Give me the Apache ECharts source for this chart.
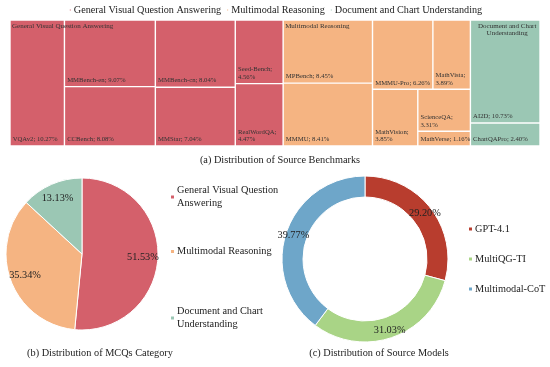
<!DOCTYPE html>
<html><head><meta charset="utf-8">
<script src="https://cdn.jsdelivr.net/npm/echarts@6/dist/echarts.min.js"></script>
<style>html,body{margin:0;padding:0;background:#fff}#c{width:550px;height:367px}</style>
</head><body><div id="c"></div>
<script>
// ---------- data ----------
const categoryNames = ['General Visual Question Answering', 'Multimodal Reasoning', 'Document and Chart Understanding'];
const categoryShares = [51.53, 35.34, 13.13];

const gvqaBenchmarks = ['VQAv2', 'MMBench-en', 'CCBench', 'MMBench-cn', 'MMStar', 'Seed-Bench', 'RealWordQA'];
const gvqaShares = [10.27, 9.07, 8.08, 8.04, 7.04, 4.56, 4.47];

const mrBenchmarks = ['MPBench', 'MMMU', 'MMMU-Pro', 'MathVista', 'MathVision', 'ScienceQA', 'MathVerse'];
const mrShares = [8.45, 8.41, 6.26, 3.89, 3.85, 3.31, 1.16];

const dcuBenchmarks = ['AI2D', 'ChartQAPro'];
const dcuShares = [10.73, 2.40];

const modelNames = ['GPT-4.1', 'MultiQG-TI', 'Multimodal-CoT'];
const modelShares = [29.20, 31.03, 39.77];

// ---------- layout / style ----------
const gvqaLayout = [0, [1, 2], [3, 4], [5, 6]];
const mrLayout = [[0, 1], [[2, 3], [4, [5, 6]]]];
const dcuLayout = [0, 1];
const wrapped = new Set(['Seed-Bench', 'RealWordQA', 'MathVista', 'MathVision', 'ScienceQA']);
const catColors = ['#d4606b', '#f5b482', '#9bc7b4'];
const modelColors = ['#b83d2e', '#a9d486', '#6ea6c9'];
const FF = '"Times New Roman","Liberation Serif",serif';
const TXT = '#222';
const legendLines = {
  'General Visual Question Answering': 'General Visual Question\nAnswering',
  'Document and Chart Understanding': 'Document and Chart\nUnderstanding'
};

function buildNode(layout, names, values, color) {
  if (typeof layout === 'number') {
    return { name: names[layout], value: values[layout],
      itemStyle: { color: color, borderColor: '#fff', borderWidth: 0.7 } };
  }
  return { name: '', children: layout.map(l => buildNode(l, names, values, color)),
    itemStyle: { color: color, borderWidth: 0, gapWidth: 0 } };
}
const groupDefs = [
  [gvqaLayout, gvqaBenchmarks, gvqaShares],
  [mrLayout, mrBenchmarks, mrShares],
  [dcuLayout, dcuBenchmarks, dcuShares]
];
const treeData = groupDefs.map((g, i) => {
  const n = buildNode(g[0], g[1], g[2], catColors[i]);
  n.name = categoryNames[i];
  return n;
});
const groupSums = groupDefs.map(g => g[2].reduce((a, b) => a + b, 0));

const tmBox = { left: 10, top: 20, width: 530, height: 126 };

const chart = echarts.init(document.getElementById('c'));
chart.setOption({
  animation: false,
  title: [
    { text: '(a) Distribution of Source Benchmarks', left: 280, top: 155, textAlign: 'center', padding: 0,
      textStyle: { fontSize: 10.3, fontWeight: 'normal', fontFamily: FF, color: TXT } },
    { text: '(b) Distribution of MCQs Category', left: 100, top: 348, textAlign: 'center', padding: 0,
      textStyle: { fontSize: 10.3, fontWeight: 'normal', fontFamily: FF, color: TXT } },
    { text: '(c) Distribution of Source Models', left: 379, top: 348, textAlign: 'center', padding: 0,
      textStyle: { fontSize: 10.3, fontWeight: 'normal', fontFamily: FF, color: TXT } }
  ],
  legend: [
    { data: categoryNames, top: 5, left: 'center', orient: 'horizontal', icon: 'rect',
      itemWidth: 3, itemHeight: 3, itemGap: 4, padding: 0, selectedMode: false,
      textStyle: { fontSize: 10.2, fontFamily: FF, color: TXT, padding: [0, 0, 0, -3] } },
    { data: [categoryNames[0]], orient: 'vertical', left: 169, top: 184, icon: 'rect',
      itemWidth: 5, itemHeight: 5, padding: 0, selectedMode: false,
      formatter: n => legendLines[n] || n,
      textStyle: { fontSize: 10.3, lineHeight: 13, fontFamily: FF, color: TXT, padding: [0, 0, 0, -3] } },
    { data: [categoryNames[1]], orient: 'vertical', left: 169, top: 245, icon: 'rect',
      itemWidth: 5, itemHeight: 5, padding: 0, selectedMode: false,
      formatter: n => legendLines[n] || n,
      textStyle: { fontSize: 10.3, lineHeight: 13, fontFamily: FF, color: TXT, padding: [0, 0, 0, -3] } },
    { data: [categoryNames[2]], orient: 'vertical', left: 169, top: 305, icon: 'rect',
      itemWidth: 5, itemHeight: 5, padding: 0, selectedMode: false,
      formatter: n => legendLines[n] || n,
      textStyle: { fontSize: 10.3, lineHeight: 13, fontFamily: FF, color: TXT, padding: [0, 0, 0, -3] } },
    { data: modelNames, orient: 'vertical', left: 467, top: 222.5, icon: 'rect',
      itemWidth: 5, itemHeight: 5, itemGap: 17, padding: 0, selectedMode: false,
      textStyle: { fontSize: 10.3, lineHeight: 13, fontFamily: FF, color: TXT, padding: [0, 0, 0, -3] } }
  ],
  series: [
    Object.assign({
      type: 'treemap', squareRatio: 0.0001, sort: false, roam: false, nodeClick: false,
      breadcrumb: { show: false }, visibleMin: 0, silent: true,
      itemStyle: { borderWidth: 0, gapWidth: 0 },
      upperLabel: { show: false },
      label: {
        show: true, position: 'insideBottomLeft', distance: 2, padding: 0, overflow: 'none',
        fontSize: 6.7, lineHeight: 7.5, fontFamily: FF, color: '#333',
        formatter: p => {
          const v = Number(p.value).toFixed(2) + '%';
          return wrapped.has(p.name) ? p.name + ';\n' + v : p.name + '; ' + v;
        }
      },
      data: treeData
    }, tmBox),
    Object.assign({
      type: 'treemap', squareRatio: 0.0001, sort: false, roam: false, nodeClick: false,
      breadcrumb: { show: false }, visibleMin: 0, silent: true, z: 5,
      itemStyle: { borderWidth: 0, gapWidth: 0, color: 'rgba(0,0,0,0)', borderColor: 'rgba(0,0,0,0)' },
      label: {
        show: true, position: 'insideTopLeft', distance: 2, padding: 0, overflow: 'none',
        fontSize: 7, lineHeight: 7.5, fontFamily: FF, color: '#333',
        formatter: p => legendLines[p.name] && p.name === categoryNames[2]
          ? legendLines[p.name].split('\n').map(s => '{c|' + s + '}').join('\n') : p.name,
        rich: { c: { align: 'center', fontSize: 7, lineHeight: 7.5, fontFamily: FF, color: '#333' } }
      },
      data: categoryNames.map((n, i) => ({ name: n, value: groupSums[i],
        itemStyle: { color: 'rgba(0,0,0,0)', borderColor: 'rgba(0,0,0,0)', borderWidth: 0 } }))
    }, tmBox),
    {
      type: 'pie', center: [82, 254], radius: 76, startAngle: 90, clockwise: true, silent: true,
      label: { show: false }, labelLine: { show: false },
      itemStyle: { borderColor: '#fff', borderWidth: 1 },
      data: categoryNames.map((n, i) => ({ name: n, value: categoryShares[i], itemStyle: { color: catColors[i] } }))
    },
    {
      type: 'pie', center: [82, 254], radius: [40, 76], startAngle: 90, clockwise: true, silent: true, z: 5,
      label: { show: true, position: 'inside', fontSize: 10.3, fontFamily: FF, color: TXT,
        formatter: p => Number(p.value).toFixed(2) + '%' },
      labelLine: { show: false },
      itemStyle: { color: 'rgba(0,0,0,0)', borderWidth: 0 },
      data: categoryNames.map((n, i) => ({ name: n, value: categoryShares[i], itemStyle: { color: 'rgba(0,0,0,0)' } }))
    },
    {
      type: 'pie', center: [365, 259], radius: [62, 83], startAngle: 90, clockwise: true, silent: true,
      label: { show: true, position: 'inside', fontSize: 10.3, fontFamily: FF, color: TXT,
        formatter: p => Number(p.value).toFixed(2) + '%' },
      labelLine: { show: false },
      itemStyle: { borderColor: '#fff', borderWidth: 1 },
      data: modelNames.map((n, i) => ({ name: n, value: modelShares[i], itemStyle: { color: modelColors[i] } }))
    }
  ]
});
</script></body></html>
